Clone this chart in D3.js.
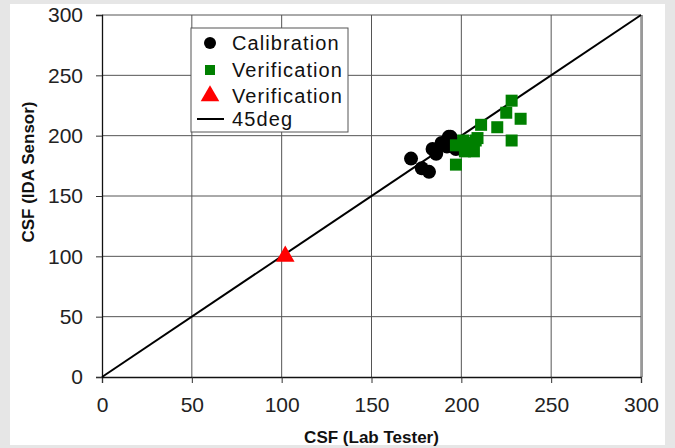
<!DOCTYPE html>
<html>
<head>
<meta charset="utf-8">
<script src="https://cdn.jsdelivr.net/npm/d3@7"></script>
<style>
  body { margin: 0; background: #e6e6e6; }
  text { font-family: "Liberation Sans", Arial, sans-serif; }
</style>
</head>
<body>
<div id="chart"></div>
<script>
// calibration points (lab tester, IDA sensor)
let calibX = [172, 178, 182, 184, 186, 189, 193, 194, 192, 196, 197];
let calibY = [181, 173, 170, 189, 185, 194, 199, 199, 191, 194, 189];

// verification points (squares)
let verifX = [228, 225, 233, 211, 220, 209, 228, 197, 201, 197, 205, 202, 207, 208];
let verifY = [229, 219, 214, 209, 207, 198, 196, 176, 196, 192, 194, 187, 187, 196];

// verification point (triangle)
let verif2X = [102];
let verif2Y = [100];

let lineVals = [0, 300];
let tickVals = [0, 50, 100, 150, 200, 250, 300];
let legendLabels = ["Calibration", "Verification", "Verification", "45deg"];

let width = 675, height = 448;
let margin = {left: 102, right: 34, top: 15, bottom: 71};

let svg = d3.select("#chart")
  .append("svg")
  .attr("width", width)
  .attr("height", height);

// white panel
svg.append("rect")
  .attr("x", 10).attr("y", 4)
  .attr("width", 655).attr("height", 441)
  .attr("fill", "#fff");

let x = d3.scaleLinear().domain([0, 300]).range([margin.left, width - margin.right]);
let y = d3.scaleLinear().domain([0, 300]).range([height - margin.bottom, margin.top]);

// gridlines
svg.append("g")
  .selectAll("line")
  .data(tickVals.slice(1))
  .enter()
  .append("line")
  .attr("x1", d => x(d)).attr("x2", d => x(d))
  .attr("y1", y(0)).attr("y2", y(300))
  .attr("stroke", "#555")
  .attr("stroke-width", 1);

svg.append("g")
  .selectAll("line")
  .data(tickVals.slice(1))
  .enter()
  .append("line")
  .attr("x1", x(0)).attr("x2", x(300))
  .attr("y1", d => y(d)).attr("y2", d => y(d))
  .attr("stroke", "#555")
  .attr("stroke-width", 1);

// right border shadow
svg.append("line")
  .attr("x1", x(300) + 1).attr("x2", x(300) + 1)
  .attr("y1", y(300)).attr("y2", y(0))
  .attr("stroke", "#999")
  .attr("stroke-width", 2);

// axes
let xAxis = svg.append("g")
  .attr("transform", "translate(0," + y(0) + ")")
  .call(d3.axisBottom(x).tickValues(tickVals).tickSize(6).tickPadding(14));

let yAxis = svg.append("g")
  .attr("transform", "translate(" + x(0) + ",0)")
  .call(d3.axisLeft(y).tickValues(tickVals).tickSize(6).tickPadding(13));

[xAxis, yAxis].forEach(function(a) {
  a.select(".domain").attr("stroke", "#111").attr("stroke-width", 1.3);
  a.selectAll(".tick line").attr("stroke", "#333");
  a.selectAll(".tick text")
    .attr("font-size", 21)
    .attr("fill", "#222")
    .style("font-family", "'Liberation Sans', Arial, sans-serif");
});

// 45 degree line
svg.append("line")
  .attr("x1", x(lineVals[0])).attr("y1", y(lineVals[0]))
  .attr("x2", x(lineVals[1])).attr("y2", y(lineVals[1]))
  .attr("stroke", "#000")
  .attr("stroke-width", 2);

// calibration circles
svg.append("g")
  .selectAll("circle")
  .data(calibX)
  .enter()
  .append("circle")
  .attr("cx", d => x(d))
  .attr("cy", (d, i) => y(calibY[i]))
  .attr("r", 7)
  .attr("fill", "#000");

// verification squares
svg.append("g")
  .selectAll("rect")
  .data(verifX)
  .enter()
  .append("rect")
  .attr("x", d => x(d) - 6)
  .attr("y", (d, i) => y(verifY[i]) - 6)
  .attr("width", 12).attr("height", 12)
  .attr("fill", "#008000");

// verification triangle
let tri = d3.symbol().type(d3.symbolTriangle).size(150);
svg.append("g")
  .selectAll("path")
  .data(verif2X)
  .enter()
  .append("path")
  .attr("d", tri)
  .attr("transform", (d, i) => "translate(" + x(d) + "," + y(verif2Y[i]) + ")")
  .attr("fill", "#ff0000");

// axis titles
svg.append("text")
  .attr("x", (x(0) + x(300)) / 2)
  .attr("y", 443)
  .attr("text-anchor", "middle")
  .attr("font-size", 17)
  .attr("font-weight", "bold")
  .attr("fill", "#111")
  .text("CSF (Lab Tester)");

svg.append("text")
  .attr("transform", "translate(34," + 172 + ") rotate(-90)")
  .attr("text-anchor", "middle")
  .attr("font-size", 17)
  .attr("font-weight", "bold")
  .attr("fill", "#111")
  .text("CSF (IDA Sensor)");

// legend
let legend = svg.append("g").attr("transform", "translate(191,28)");
legend.append("rect")
  .attr("width", 157).attr("height", 104)
  .attr("fill", "#fff")
  .attr("stroke", "#555")
  .attr("stroke-width", 1);

let rowY = [15, 42, 68, 91];
legend.selectAll("text")
  .data(legendLabels)
  .enter()
  .append("text")
  .attr("x", 41)
  .attr("y", (d, i) => rowY[i] + 7)
  .attr("font-size", 20)
  .attr("letter-spacing", 1.1)
  .attr("fill", "#111")
  .text(d => d);

legend.append("circle").attr("cx", 19).attr("cy", rowY[0]).attr("r", 6).attr("fill", "#000");
legend.append("rect").attr("x", 14).attr("y", rowY[1] - 5).attr("width", 10).attr("height", 10).attr("fill", "#008000");
legend.append("path").attr("d", tri).attr("transform", "translate(19," + rowY[2] + ")").attr("fill", "#ff0000");
legend.append("line").attr("x1", 6).attr("x2", 33).attr("y1", rowY[3]).attr("y2", rowY[3]).attr("stroke", "#000").attr("stroke-width", 2);
</script>
</body>
</html>
